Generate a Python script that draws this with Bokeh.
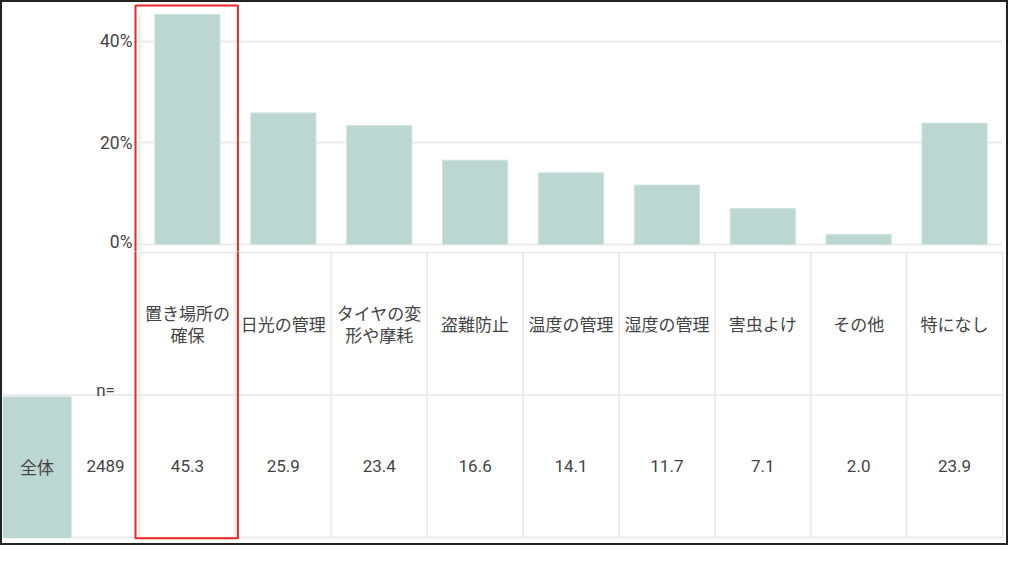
from bokeh.plotting import figure
from bokeh.layouts import column
from bokeh.models import Range1d, FixedTicker, PrintfTickFormatter
from bokeh.embed import file_html
from bokeh.resources import INLINE
from bokeh.core.properties import value

# ---------------- data ----------------
categories = ["置き場所の確保", "日光の管理", "タイヤの変形や摩耗", "盗難防止", "温度の管理",
              "湿度の管理", "害虫よけ", "その他", "特になし"]
category_labels = ["置き場所の\n確保", "日光の管理", "タイヤの変\n形や摩耗", "盗難防止", "温度の管理",
                   "湿度の管理", "害虫よけ", "その他", "特になし"]
shares = [45.3, 25.9, 23.4, 16.6, 14.1, 11.7, 7.1, 2.0, 23.9]
group_label = "全体"
n_label = "n="
n_total = 2489
y_ticks = [0, 20, 40]
highlight = "置き場所の確保"

# ---------------- style ----------------
BAR = "#bcd6d2"
GRID = "#ebebeb"
TEXT = "#444444"
RED = "#f02424"
NUM_FONT = "Roboto"
JP_FONT = "Noto Sans CJK JP"

W = 1004
TOP_H = 249
BOT_H = 292
ROW_PX = 143
NCOL = len(categories)
COL = 863 / NCOL          # px per category column
LEFT_PX = 137             # label column + n column
N_PX = 68
PX_PER_PCT = 5.08

xs = [i + 0.5 for i in range(NCOL)]
hi = categories.index(highlight)
hl_left = hi - 4 / COL
hl_right = hi + 1 + 2.5 / COL

# ---------------- top: bar chart ----------------
y_start = -7 / PX_PER_PCT
y_end = y_start + TOP_H / PX_PER_PCT

top = figure(width=W, height=TOP_H, output_backend="svg", toolbar_location=None,
             x_range=Range1d(-6 / COL, NCOL), y_range=Range1d(y_start, y_end),
             x_axis_location=None, min_border_left=131, min_border_right=4,
             min_border_top=0, min_border_bottom=0, frame_align=False)
top.outline_line_color = None
top.xgrid.visible = False
top.ygrid.ticker = FixedTicker(ticks=y_ticks)
top.ygrid.grid_line_color = GRID
top.ygrid.grid_line_width = 2
top.yaxis.ticker = FixedTicker(ticks=y_ticks)
top.yaxis.formatter = PrintfTickFormatter(format="%d%%")
top.yaxis.axis_line_color = None
top.yaxis.major_tick_line_color = None
top.yaxis.minor_tick_line_color = None
top.yaxis.major_tick_out = 0
top.yaxis.major_tick_in = 0
top.yaxis.major_label_standoff = 1
top.yaxis.major_label_text_font = NUM_FONT
top.yaxis.major_label_text_font_size = "17.5px"
top.yaxis.major_label_text_color = TEXT

# axis-like vertical line at the first column boundary
top.segment(x0=[0], y0=[y_start - 5], x1=[0], y1=[max(shares) + 0.2], line_color=GRID, line_width=2)

top.vbar(x=xs, top=shares, bottom=0, width=0.68, fill_color=BAR, line_color="#cfe3e0", line_width=1)

top.quad(left=[hl_left], right=[hl_right], top=[y_end - 3 / PX_PER_PCT], bottom=[y_start - 20],
         fill_color=None, line_color=RED, line_width=2)

# ---------------- bottom: table ----------------
x_lo = -LEFT_PX / COL
x_n = -N_PX / COL
x_hi = NCOL + 4 / COL
bot = figure(width=W, height=BOT_H, output_backend="svg", toolbar_location=None,
             x_range=Range1d(x_lo, x_hi), y_range=Range1d(-6 / ROW_PX, 2 + 1 / ROW_PX),
             x_axis_location=None, y_axis_location=None, frame_align=False,
             min_border_left=0, min_border_right=0, min_border_top=0, min_border_bottom=0)
bot.outline_line_color = None
bot.grid.visible = False

# teal label cell
bot.quad(left=[x_lo], right=[x_n], top=[0.99], bottom=[-0.005], fill_color=BAR, line_color=None)

# grid lines
vx = list(range(NCOL + 1))
bot.segment(x0=vx, y0=[0] * len(vx), x1=vx, y1=[2.5] * len(vx), line_color=GRID, line_width=2)
bot.segment(x0=[0, x_lo, x_n], y0=[2, 1, 0], x1=[NCOL, NCOL, NCOL], y1=[2, 1, 0],
            line_color=GRID, line_width=2)

# header labels
bot.text(x=xs, y=[1.5] * NCOL, text=category_labels, text_align="center", text_baseline="middle",
         text_font=value(JP_FONT), text_font_size="17px", text_color=TEXT, text_line_height=0.87)
# values
bot.text(x=xs, y=[0.5] * NCOL, text=[f"{v:.1f}" for v in shares], text_align="center",
         text_baseline="middle", text_font=value(NUM_FONT), text_font_size="17px", text_color=TEXT)
# n column
bot.text(x=[x_n / 2], y=[1 + 5 / ROW_PX], text=[n_label], text_align="center", text_baseline="alphabetic",
         text_font=value(NUM_FONT), text_font_size="17px", text_color=TEXT)
bot.text(x=[x_n / 2], y=[0.5], text=[str(n_total)], text_align="center", text_baseline="middle",
         text_font=value(NUM_FONT), text_font_size="17px", text_color=TEXT)
bot.text(x=[(x_lo + x_n) / 2], y=[0.5], text=[group_label], text_align="center", text_baseline="middle",
         text_font=value(JP_FONT), text_font_size="17px", text_color=TEXT)

bot.quad(left=[hl_left], right=[hl_right], top=[5], bottom=[-0.005],
         fill_color=None, line_color=RED, line_width=2)

layout = column(top, bot, spacing=0, styles={"border": "2px solid #222222"})

open("out.html", "w").write(file_html(layout, INLINE))
